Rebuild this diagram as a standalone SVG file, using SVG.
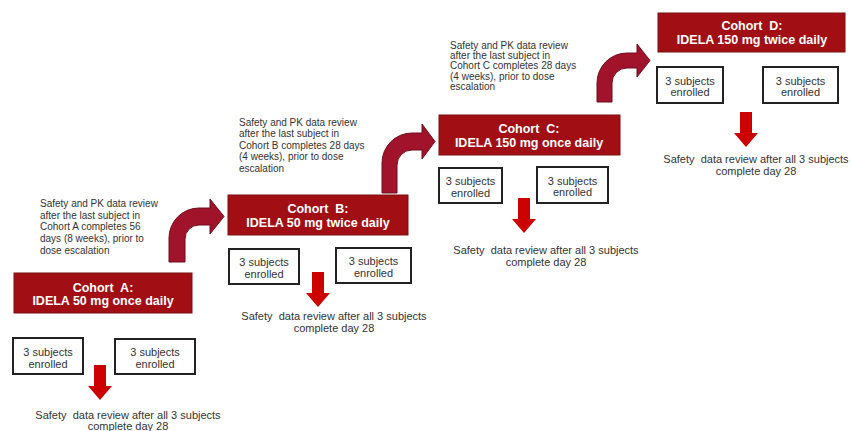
<svg xmlns="http://www.w3.org/2000/svg" width="852" height="431" viewBox="0 0 852 431">
<style>
.cohort{fill:#a10f14;stroke:#7a1010;stroke-width:1}
.ct{font-family:"Liberation Sans",Arial,sans-serif;font-weight:bold;font-size:12.5px;fill:#ffffff;text-anchor:middle}
.sb{fill:#ffffff;stroke:#222222;stroke-width:2}
.st{font-family:"Liberation Sans",Arial,sans-serif;font-size:11px;fill:#333333;text-anchor:middle}
.note{font-family:"Liberation Sans",Arial,sans-serif;font-size:10px;fill:#333333}
.rev{font-family:"Liberation Sans",Arial,sans-serif;font-size:11px;fill:#333333;text-anchor:middle}
.curve{fill:#a0132b;stroke:#6e0d1d;stroke-width:1}
.down{fill:#cc0000}
</style>
<defs>
<path id="dn" d="M-6,0 H6 V21 H12 L0,35 L-12,21 H-6 Z"/>
</defs>
<rect width="852" height="431" fill="#ffffff"/>

<g id="connectors">
<path class="curve" d="M169,262 V238 A30,30 0 0 1 199,208 H210 V199 L224,216.5 L210,234 V225 H199 A14,14 0 0 0 185,239 V262 Z"/>
<path class="curve" d="M382,193 V163 A30,30 0 0 1 412,133 H422 V124 L435,141.5 L422,159 V150 H412 A15,15 0 0 0 397,165 V193 Z"/>
<path class="curve" d="M597,102 V83 A30,30 0 0 1 627,53 H637 V44 L650,60.5 L637,77 V68 H627 A15,15 0 0 0 612,83 V102 Z"/>
<use href="#dn" class="down" x="100" y="365"/>
<use href="#dn" class="down" x="318" y="272"/>
<use href="#dn" class="down" x="524" y="198"/>
<use href="#dn" class="down" x="746" y="112"/>
</g>

<g id="noteA">
<text class="note" x="40" y="207"><tspan x="40">Safety and PK data review</tspan><tspan x="40" dy="11.7">after the last subject in</tspan><tspan x="40" dy="11.7">Cohort A completes 56</tspan><tspan x="40" dy="11.7">days (8 weeks), prior to</tspan><tspan x="40" dy="11.7">dose escalation</tspan></text>
</g>
<g id="noteB">
<text class="note" x="239" y="125.5"><tspan x="239">Safety and PK data review</tspan><tspan x="239" dy="11.5">after the last subject in</tspan><tspan x="239" dy="11.5">Cohort B completes 28 days</tspan><tspan x="239" dy="11.5">(4 weeks), prior to dose</tspan><tspan x="239" dy="11.5">escalation</tspan></text>
</g>
<g id="noteC">
<text class="note" x="450" y="48.5"><tspan x="450">Safety and PK data review</tspan><tspan x="450" dy="10.4">after the last subject in</tspan><tspan x="450" dy="10.4">Cohort C completes 28 days</tspan><tspan x="450" dy="10.4">(4 weeks), prior to dose</tspan><tspan x="450" dy="10.4">escalation</tspan></text>
</g>

<g id="cohortA">
<rect class="cohort" x="14" y="273" width="178" height="40"/>
<text class="ct" x="103" y="291.5">Cohort&#160; A:</text>
<text class="ct" x="103" y="305">IDELA 50 mg once daily</text>
</g>
<g id="cohortB">
<rect class="cohort" x="228" y="195" width="180" height="40"/>
<text class="ct" x="318" y="212.5">Cohort&#160; B:</text>
<text class="ct" x="318" y="226.5">IDELA 50 mg twice daily</text>
</g>
<g id="cohortC">
<rect class="cohort" x="439" y="115" width="181" height="40"/>
<text class="ct" x="529" y="132.5">Cohort&#160; C:</text>
<text class="ct" x="529" y="147">IDELA 150 mg once daily</text>
</g>
<g id="cohortD">
<rect class="cohort" x="658" y="13" width="187" height="39"/>
<text class="ct" x="752" y="29.5">Cohort&#160; D:</text>
<text class="ct" x="752" y="43.5">IDELA 150 mg twice daily</text>
</g>

<g id="subjA1"><rect class="sb" x="13" y="338" width="70" height="36"/><text class="st" x="48" y="356">3 subjects</text><text class="st" x="48" y="367.5">enrolled</text></g>
<g id="subjA2"><rect class="sb" x="115" y="339" width="80" height="35"/><text class="st" x="155" y="356">3 subjects</text><text class="st" x="155" y="367.5">enrolled</text></g>
<g id="subjB1"><rect class="sb" x="229" y="249" width="70" height="35"/><text class="st" x="264" y="266">3 subjects</text><text class="st" x="264" y="277.5">enrolled</text></g>
<g id="subjB2"><rect class="sb" x="336" y="248" width="75" height="35"/><text class="st" x="373.5" y="265">3 subjects</text><text class="st" x="373.5" y="276.5">enrolled</text></g>
<g id="subjC1"><rect class="sb" x="439" y="168" width="63" height="35"/><text class="st" x="470.5" y="185">3 subjects</text><text class="st" x="470.5" y="196.5">enrolled</text></g>
<g id="subjC2"><rect class="sb" x="537" y="167" width="71" height="36"/><text class="st" x="572.5" y="184.5">3 subjects</text><text class="st" x="572.5" y="196">enrolled</text></g>
<g id="subjD1"><rect class="sb" x="657" y="67" width="66" height="36"/><text class="st" x="690" y="84.5">3 subjects</text><text class="st" x="690" y="96">enrolled</text></g>
<g id="subjD2"><rect class="sb" x="763" y="67" width="75" height="36"/><text class="st" x="800.5" y="84.5">3 subjects</text><text class="st" x="800.5" y="96">enrolled</text></g>

<g id="reviewA"><text class="rev" x="128" y="419">Safety&#160; data review after all 3 subjects</text><text class="rev" x="128" y="430">complete day 28</text></g>
<g id="reviewB"><text class="rev" x="334" y="320">Safety&#160; data review after all 3 subjects</text><text class="rev" x="334" y="332">complete day 28</text></g>
<g id="reviewC"><text class="rev" x="546" y="253.5">Safety&#160; data review after all 3 subjects</text><text class="rev" x="546" y="266">complete day 28</text></g>
<g id="reviewD"><text class="rev" x="756" y="163">Safety&#160; data review after all 3 subjects</text><text class="rev" x="756" y="175">complete day 28</text></g>
</svg>
